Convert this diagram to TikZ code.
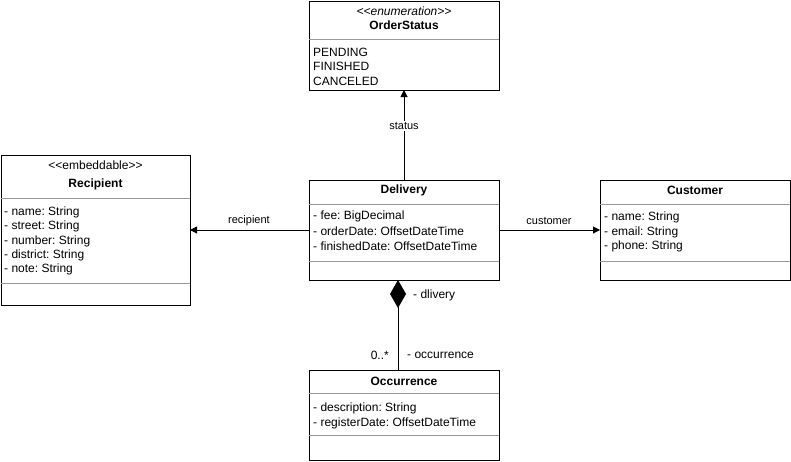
\documentclass[tikz,border=0pt]{standalone}
\usepackage{fontspec}
\setmainfont{Liberation Sans}
\usetikzlibrary{arrows.meta}
\frenchspacing
\begin{document}
\begin{tikzpicture}[x=1pt,y=-1pt,
  classbox/.style={draw=black,line width=1pt,rectangle,inner sep=0pt,outer sep=0pt},
  divider/.style={draw=black!40,line width=0.8pt},
  attr/.style={anchor=west,inner sep=0pt,font=\fontsize{12}{14}\selectfont},
  ttl/.style={inner sep=0pt,font=\fontsize{12}{14}\selectfont\bfseries},
  stereo/.style={inner sep=0pt,font=\fontsize{12}{14}\selectfont},
  elab/.style={fill=white,inner sep=1pt,font=\fontsize{11}{13}\selectfont},
  rlab/.style={inner sep=0pt,font=\fontsize{12}{14}\selectfont},
  conn/.style={draw=black,line width=1pt},
  tri/.style={-{Triangle[length=7pt,width=7pt]}}
]
\useasboundingbox (0,0) rectangle (791,461);

% OrderStatus
\node[classbox,minimum width=190pt,minimum height=89pt] (os) at (404,45.5) {};
\node[stereo] (osst) at (404,11) {\itshape <{}<enumeration>{}>};
\node[ttl] (ostt) at (404,25) {OrderStatus};
\draw[divider] (309,39) -- (499,39);
\node[attr] (os1) at (313,52) {PENDING};
\node[attr] (os2) at (313,66.5) {FINISHED};
\node[attr] (os3) at (313,81) {CANCELED};

% Recipient
\node[classbox,minimum width=189pt,minimum height=150pt] (rc) at (95.5,230) {};
\node[stereo] (rcst) at (95.5,165) {<{}<embeddable>{}>};
\node[ttl] (rctt) at (95.5,184) {Recipient};
\draw[divider] (1,198) -- (190,198);
\node[attr] (rc1) at (4,212) {- name: String};
\node[attr] (rc2) at (4,226.5) {- street: String};
\node[attr] (rc3) at (4,241) {- number: String};
\node[attr] (rc4) at (4,255) {- district: String};
\node[attr] (rc5) at (4,269) {- note: String};
\draw[divider] (1,283) -- (190,283);

% Delivery
\node[classbox,minimum width=190pt,minimum height=100pt] (dl) at (404,230) {};
\node[ttl] (dltt) at (404,190) {Delivery};
\draw[divider] (309,204) -- (499,204);
\node[attr] (dl1) at (313,216.5) {- fee: BigDecimal};
\node[attr] (dl2) at (313,231.5) {- orderDate: OffsetDateTime};
\node[attr] (dl3) at (313,246) {- finishedDate: OffsetDateTime};
\draw[divider] (309,261) -- (499,261);

% Customer
\node[classbox,minimum width=190pt,minimum height=100pt] (cu) at (695,230) {};
\node[ttl] (cutt) at (695,190) {Customer};
\draw[divider] (600,204) -- (790,204);
\node[attr] (cu1) at (604,217.5) {- name: String};
\node[attr] (cu2) at (604,232) {- email: String};
\node[attr] (cu3) at (604,246.5) {- phone: String};
\draw[divider] (600,261) -- (790,261);

% Occurrence
\node[classbox,minimum width=190pt,minimum height=90pt] (oc) at (404,415) {};
\node[ttl] (octt) at (404,381) {Occurrence};
\draw[divider] (309,393) -- (499,393);
\node[attr] (oc1) at (313,408) {- description: String};
\node[attr] (oc2) at (313,423) {- registerDate: OffsetDateTime};
\draw[divider] (309,435) -- (499,435);

% connectors
\draw[conn,tri] (dl.north) -- (os.south);
\node[elab] (lst) at (404,126) {status};
\draw[conn,tri] (dl.west) -- (rc.east);
\node[elab] (lrec) at (249,221) {recipient};
\draw[conn,tri] (dl.east) -- (cu.west);
\node[elab] (lcus) at (549,221) {customer};

\coordinate (cA) at (398,280);
\coordinate (cB) at (398,370);
\draw[conn,{Diamond[length=28pt,width=16pt]}-] (cA) -- (cB);
\node[rlab,anchor=west] (ldl) at (413,295) {- dlivery};
\node[rlab,anchor=east] (lmul) at (389,355) {0..*};
\node[rlab,anchor=west] (loc) at (407,355) {- occurrence};
\end{tikzpicture}
\end{document}
